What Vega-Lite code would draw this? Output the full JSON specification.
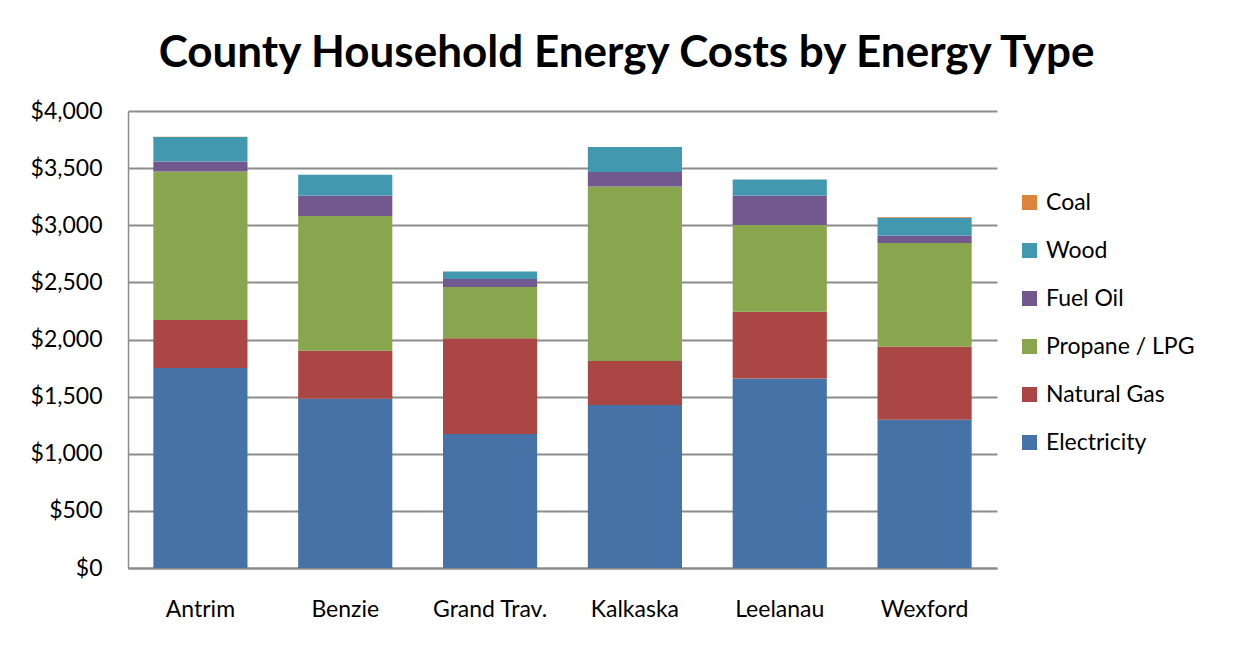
{
  "$schema": "https://vega.github.io/schema/vega-lite/v6.json",
  "autosize": {"type": "none"},
  "padding": {"left": 128, "top": 111, "right": 253, "bottom": 97},
  "width": 869,
  "height": 457,
  "background": "white",
  "title": {
    "text": "County Household Energy Costs by Energy Type",
    "font": "Lato",
    "fontWeight": "bold",
    "fontSize": 44,
    "color": "#000000",
    "anchor": "middle",
    "dx": 64,
    "offset": 24
  },
  "data": {
    "values": [
      {"county": "Antrim", "type": "Electricity", "rank": 1, "cost": 1750},
      {"county": "Antrim", "type": "Natural Gas", "rank": 2, "cost": 420},
      {"county": "Antrim", "type": "Propane / LPG", "rank": 3, "cost": 1301},
      {"county": "Antrim", "type": "Fuel Oil", "rank": 4, "cost": 88},
      {"county": "Antrim", "type": "Wood", "rank": 5, "cost": 214},
      {"county": "Antrim", "type": "Coal", "rank": 6, "cost": 2},
      {"county": "Benzie", "type": "Electricity", "rank": 1, "cost": 1481},
      {"county": "Benzie", "type": "Natural Gas", "rank": 2, "cost": 420},
      {"county": "Benzie", "type": "Propane / LPG", "rank": 3, "cost": 1179},
      {"county": "Benzie", "type": "Fuel Oil", "rank": 4, "cost": 181},
      {"county": "Benzie", "type": "Wood", "rank": 5, "cost": 181},
      {"county": "Benzie", "type": "Coal", "rank": 6, "cost": 0},
      {"county": "Grand Trav.", "type": "Electricity", "rank": 1, "cost": 1172},
      {"county": "Grand Trav.", "type": "Natural Gas", "rank": 2, "cost": 840},
      {"county": "Grand Trav.", "type": "Propane / LPG", "rank": 3, "cost": 447},
      {"county": "Grand Trav.", "type": "Fuel Oil", "rank": 4, "cost": 70},
      {"county": "Grand Trav.", "type": "Wood", "rank": 5, "cost": 66},
      {"county": "Grand Trav.", "type": "Coal", "rank": 6, "cost": 0},
      {"county": "Kalkaska", "type": "Electricity", "rank": 1, "cost": 1426},
      {"county": "Kalkaska", "type": "Natural Gas", "rank": 2, "cost": 385},
      {"county": "Kalkaska", "type": "Propane / LPG", "rank": 3, "cost": 1529},
      {"county": "Kalkaska", "type": "Fuel Oil", "rank": 4, "cost": 126},
      {"county": "Kalkaska", "type": "Wood", "rank": 5, "cost": 219},
      {"county": "Kalkaska", "type": "Coal", "rank": 6, "cost": 0},
      {"county": "Leelanau", "type": "Electricity", "rank": 1, "cost": 1659},
      {"county": "Leelanau", "type": "Natural Gas", "rank": 2, "cost": 584},
      {"county": "Leelanau", "type": "Propane / LPG", "rank": 3, "cost": 759},
      {"county": "Leelanau", "type": "Fuel Oil", "rank": 4, "cost": 259},
      {"county": "Leelanau", "type": "Wood", "rank": 5, "cost": 140},
      {"county": "Leelanau", "type": "Coal", "rank": 6, "cost": 0},
      {"county": "Wexford", "type": "Electricity", "rank": 1, "cost": 1297},
      {"county": "Wexford", "type": "Natural Gas", "rank": 2, "cost": 639},
      {"county": "Wexford", "type": "Propane / LPG", "rank": 3, "cost": 908},
      {"county": "Wexford", "type": "Fuel Oil", "rank": 4, "cost": 67},
      {"county": "Wexford", "type": "Wood", "rank": 5, "cost": 155},
      {"county": "Wexford", "type": "Coal", "rank": 6, "cost": 7}
    ]
  },
  "mark": {"type": "bar"},
  "encoding": {
    "x": {
      "field": "county",
      "type": "nominal",
      "sort": null,
      "scale": {"paddingInner": 0.35, "paddingOuter": 0.175},
      "axis": {
        "title": null,
        "labelAngle": 0,
        "labelFont": "Lato",
        "labelFontSize": 23,
        "labelColor": "#000000",
        "labelPadding": 30,
        "ticks": false,
        "domainColor": "#8c8c8c",
        "domainWidth": 2
      }
    },
    "y": {
      "field": "cost",
      "type": "quantitative",
      "stack": "zero",
      "scale": {"domain": [0, 4000], "nice": false},
      "axis": {
        "title": null,
        "values": [0, 500, 1000, 1500, 2000, 2500, 3000, 3500, 4000],
        "format": "$,.0f",
        "labelFont": "Lato",
        "labelFontSize": 23,
        "labelColor": "#000000",
        "labelPadding": 26,
        "ticks": false,
        "grid": true,
        "gridColor": "#8c8c8c",
        "gridWidth": 2,
        "domainColor": "#8c8c8c",
        "domainWidth": 1.5
      }
    },
    "color": {
      "field": "type",
      "type": "nominal",
      "scale": {
        "domain": ["Coal", "Wood", "Fuel Oil", "Propane / LPG", "Natural Gas", "Electricity"],
        "range": ["#DB843D", "#4198AF", "#71588F", "#89A54E", "#AA4643", "#4572A7"]
      },
      "legend": {
        "title": null,
        "orient": "none",
        "legendX": 890,
        "legendY": 80,
        "padding": 0,
        "symbolType": "square",
        "symbolSize": 225,
        "symbolStrokeWidth": 0,
        "labelFont": "Lato",
        "labelFontSize": 23,
        "labelColor": "#000000",
        "labelOffset": 5,
        "rowPadding": 24
      }
    },
    "order": {"field": "rank", "type": "quantitative", "sort": "ascending"}
  },
  "config": {
    "view": {"stroke": null},
    "axis": {"gridCap": "butt"}
  }
}
